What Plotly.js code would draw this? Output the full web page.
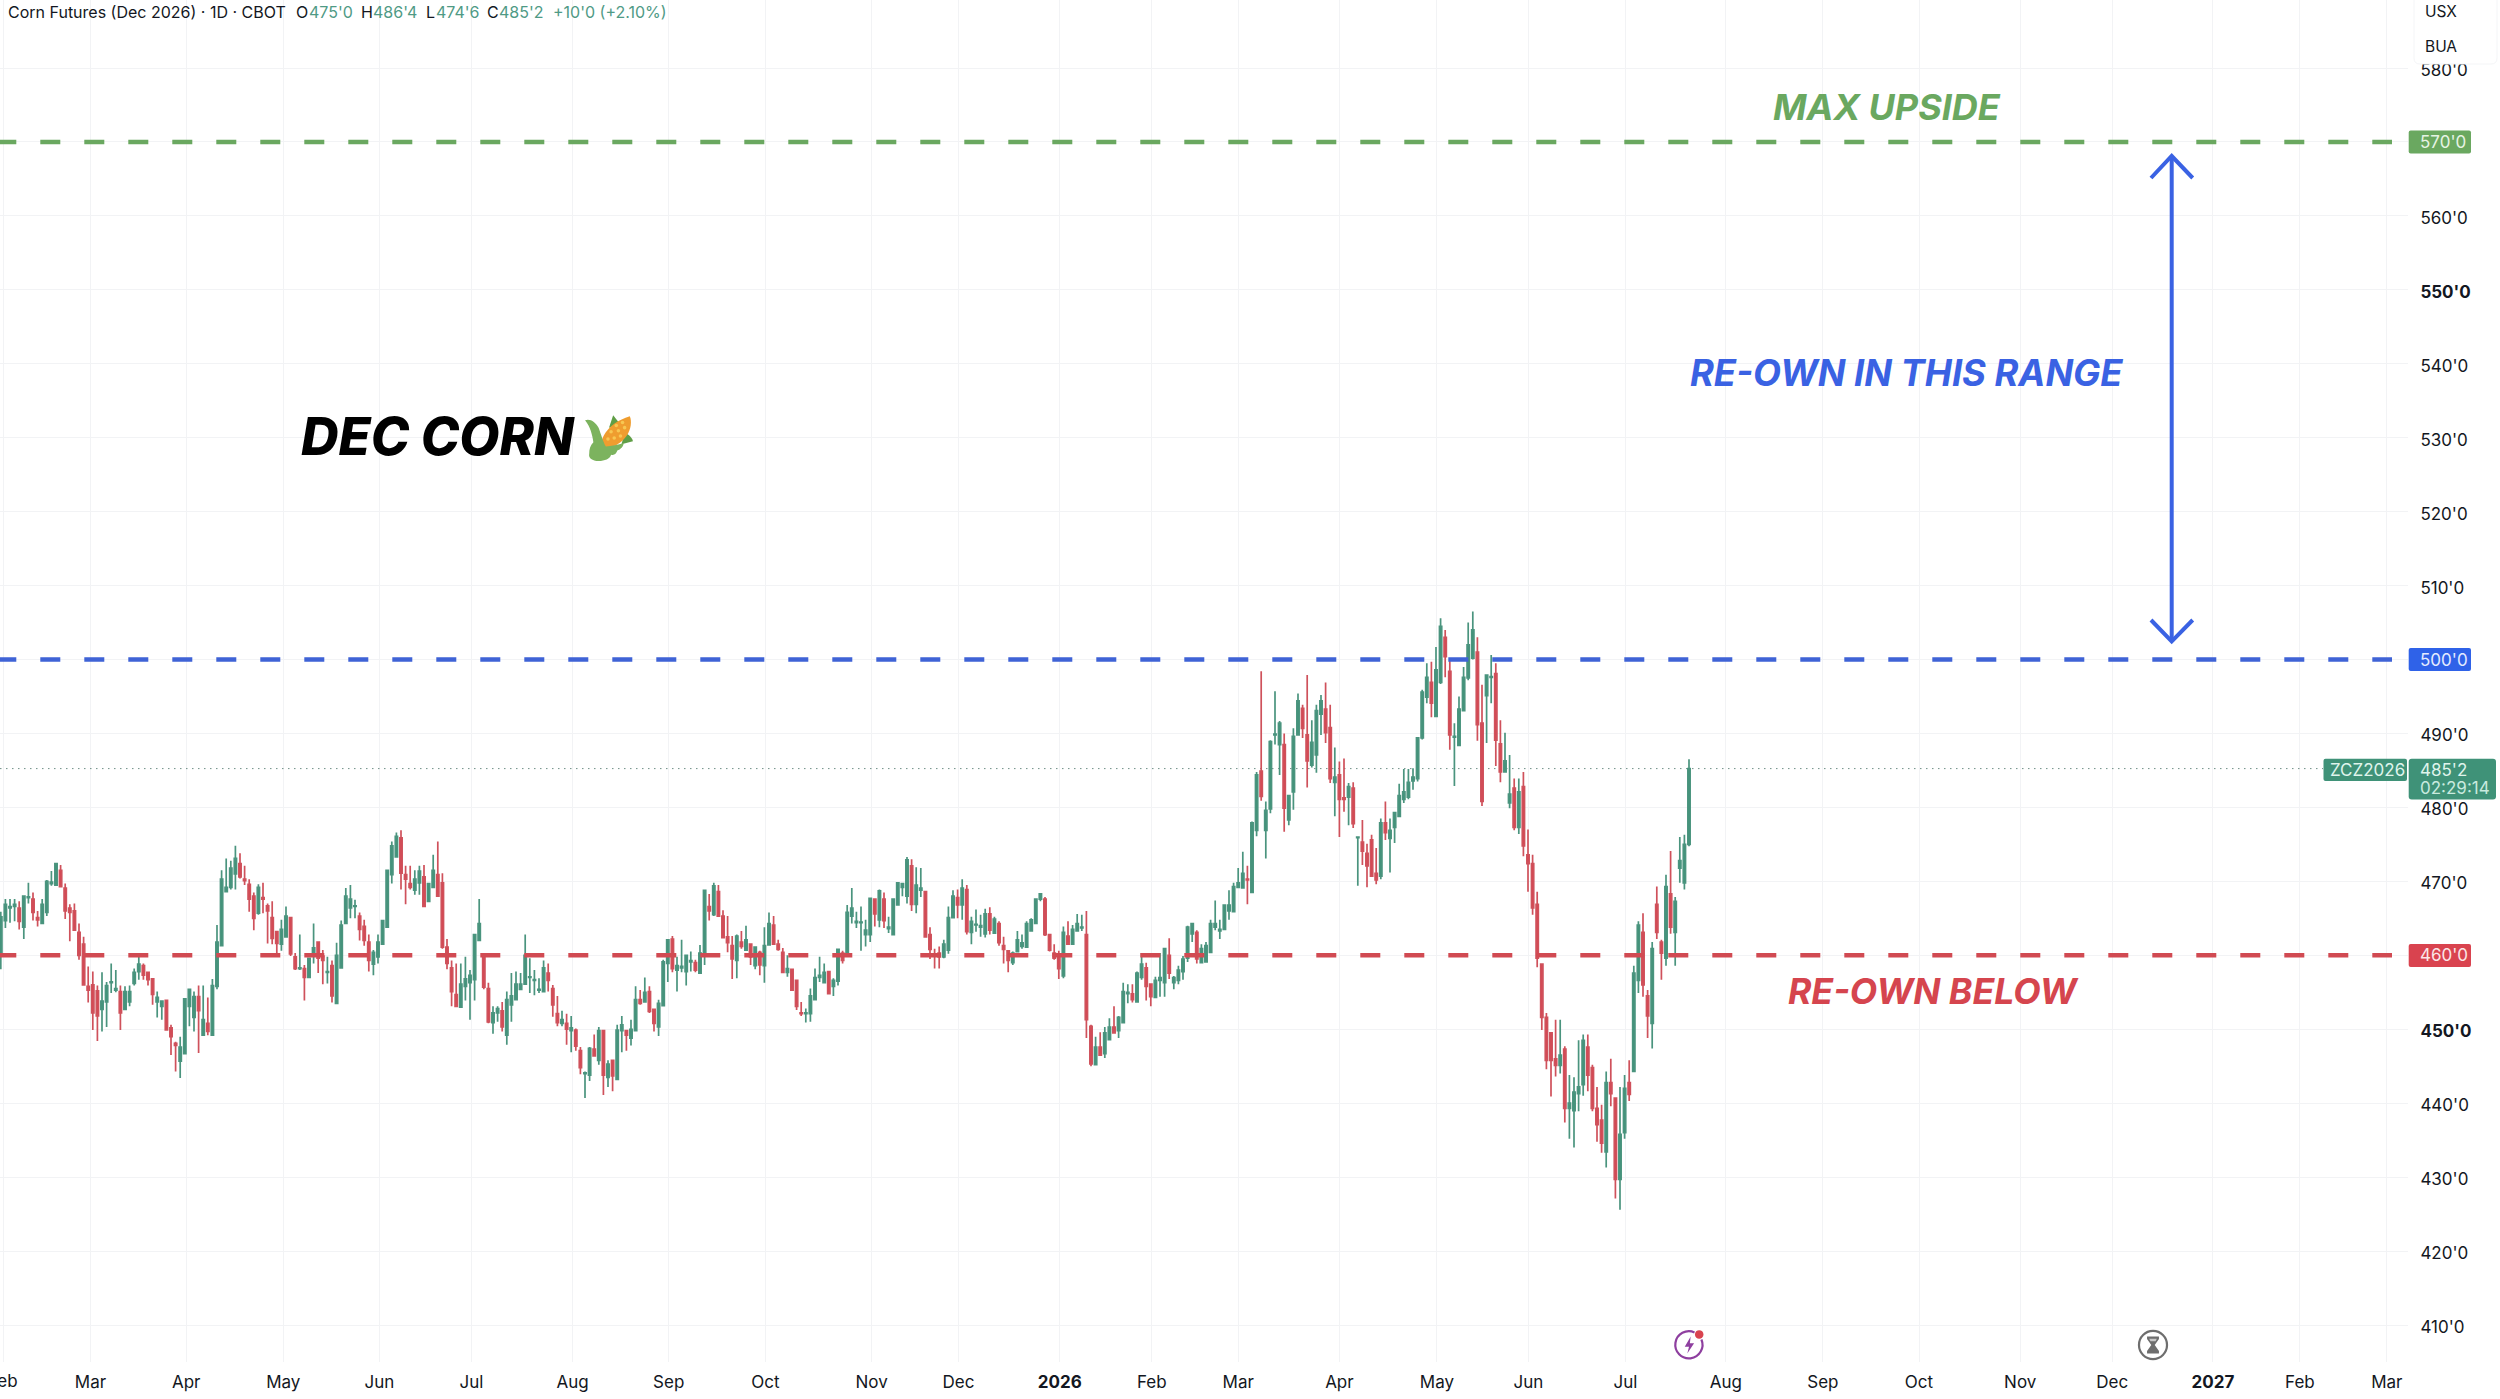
<!DOCTYPE html>
<html>
<head>
<meta charset="utf-8">
<script src="https://cdn.plot.ly/plotly-3.0.1.min.js"></script>
<style>html,body{margin:0;padding:0;background:#fff}#chart{width:2500px;height:1399px}</style>
</head>
<body>
<div id="chart"></div>
<script>
// Daily bars [open, high, low, close], in time order.
const barsFebMay2025 = [
[461.0,464.0,460.0,463.0],[460.0,465.9,458.1,465.2],[464.7,467.6,463.7,466.9],[466.4,467.6,464.4,466.6],[466.6,467.6,464.6,466.9],
[466.4,467.3,463.5,464.6],[463.8,468.0,462.2,468.0],[467.8,469.8,467.0,467.9],[467.6,468.5,464.7,465.8],[465.1,466.0,463.9,464.8],
[464.3,467.6,464.2,466.9],[465.8,470.2,465.3,470.0],[469.7,471.4,469.4,469.9],[469.5,472.4,469.4,472.4],[471.5,472.2,469.2,469.3],
[469.1,469.7,464.9,466.0],[466.4,466.9,461.9,465.8],[466.0,467.0,463.3,463.4],[463.1,464.3,459.4,460.0],[461.5,462.5,455.9,456.0],
[455.8,458.5,453.6,455.3],[456.0,457.8,449.9,452.2],[455.2,455.9,448.4,451.8],[452.7,457.7,449.7,453.8],[453.7,456.4,450.3,455.9],
[456.3,458.9,454.9,456.4],[455.3,458.0,455.0,455.5],[455.1,455.9,449.9,452.2],[452.7,455.8,452.7,455.1],[453.7,455.9,453.1,455.1],
[456.2,458.2,455.9,457.7],[457.8,460.0,456.7,458.8],[458.6,458.9,456.7,457.3],[457.7,457.8,455.9,456.7],[456.8,456.9,453.3,454.7],
[453.7,455.1,451.6,454.3],[453.1,453.8,451.3,453.8],[453.9,454.0,449.9,449.9],[450.2,450.6,446.5,449.0],[448.1,448.3,444.3,447.8],
[445.7,449.0,443.4,447.6],[446.7,454.1,446.7,454.1],[453.1,455.5,450.4,455.4],[451.6,455.1,449.7,454.4],[454.4,455.9,446.8,452.5],
[449.2,455.9,449.2,451.3],[450.8,454.3,449.2,449.7],[449.2,456.8,449.1,455.9],[455.8,464.1,455.4,461.8],[461.3,471.5,461.2,470.3],
[468.6,473.1,468.6,469.2],[469.2,472.8,468.9,471.8],[471.0,474.8,468.9,473.1],[472.4,473.8,470.4,470.6],[470.3,472.1,469.5,470.1],
[469.6,470.3,465.9,467.6],[468.0,468.5,463.4,465.0],[465.7,469.6,465.5,469.2],[467.8,469.8,465.7,467.6],[466.7,467.0,461.6,466.0],
[465.1,467.3,461.5,462.3],[463.2,463.3,460.3,461.6],[461.5,464.8,460.6,463.5],[462.5,466.6,462.4,465.3],[465.1,465.1,459.9,460.2]
];
const barsMayAug2025 = [
[459.8,460.3,458.0,458.2],[458.2,462.8,458.0,458.3],[458.2,458.7,453.9,457.0],[457.0,459.7,456.9,459.6],[460.4,464.3,458.9,461.0],
[461.8,461.9,457.6,459.6],[459.9,460.7,456.1,459.3],[457.7,459.8,456.2,457.8],[458.6,459.3,453.6,454.5],[453.5,461.7,453.5,460.0],
[458.3,464.7,458.2,464.1],[464.3,469.1,464.2,468.0],[466.4,469.5,465.0,467.6],[466.6,467.5,465.0,466.7],[465.3,465.8,462.0,463.5],
[463.9,464.8,461.3,462.0],[461.8,462.8,457.8,459.3],[458.8,460.7,457.3,460.4],[459.8,462.8,458.9,461.8],[461.5,464.8,461.4,464.7],
[463.8,471.6,463.8,471.5],[470.9,475.4,469.7,474.8],[473.3,476.6,473.3,476.1],[475.9,476.9,468.9,471.1],[470.9,472.1,466.9,470.3],
[469.7,472.1,468.9,469.2],[468.8,471.5,468.2,470.3],[469.8,472.1,468.2,471.4],[470.6,472.2,466.6,466.6],[467.3,469.8,467.3,469.7],
[469.2,473.6,469.2,471.5],[470.9,475.4,467.9,468.0],[469.8,471.1,460.9,461.1],[461.1,462.2,458.1,458.9],[458.3,459.3,453.1,455.1],
[454.7,458.9,453.0,453.1],[453.0,458.9,453.0,456.1],[455.8,459.8,453.9,456.8],[456.3,458.0,451.3,457.3],[456.7,462.8,453.9,462.8],
[462.0,467.6,461.9,464.3],[459.8,459.9,455.4,455.7],[455.5,456.3,450.8,451.0],[450.9,453.1,449.4,452.2],[452.2,453.1,451.0,452.8],
[452.5,453.7,449.7,450.3],[449.2,455.1,447.9,454.0],[453.3,457.6,451.0,454.5],[454.0,457.8,454.0,456.1],[455.4,457.6,455.3,456.1],
[456.1,462.8,456.0,460.0],[457.0,459.6,454.9,457.1],[456.6,458.0,454.6,456.7],[455.3,456.9,454.9,455.4],[455.1,459.3,455.1,458.3],
[457.6,458.9,455.1,456.6],[455.5,456.0,451.7,453.3],[452.1,454.5,450.4,450.9],[450.8,452.5,450.4,451.3],[450.8,452.1,447.9,450.0],
[449.8,451.8,446.9,450.2],[449.9,450.1,447.1,447.7],[447.1,447.6,443.9,444.8],[444.0,444.3,440.7,444.1],[443.8,447.6,443.0,447.4]
];
const barsAugNov2025 = [
[447.3,449.3,446.3,446.4],[445.8,450.3,445.2,449.8],[449.8,449.9,441.1,443.8],[443.5,445.8,442.2,445.3],[445.8,445.8,441.6,443.7],
[443.2,450.6,443.2,449.9],[449.8,451.8,446.9,450.6],[449.8,449.9,447.1,449.2],[448.8,451.3,447.8,450.0],[449.8,455.8,449.7,454.0],
[454.0,455.3,453.3,453.5],[453.7,457.0,453.6,455.0],[455.1,455.8,452.2,452.4],[452.7,452.8,449.7,450.8],[450.3,454.0,449.1,453.5],
[453.2,459.4,453.1,459.1],[458.9,462.1,456.4,462.1],[462.2,462.6,457.7,458.2],[458.0,459.8,455.1,458.6],[458.3,462.1,457.7,458.5],
[457.8,460.0,455.9,460.0],[459.1,460.5,457.8,459.3],[459.0,459.4,457.7,458.0],[457.6,461.4,457.5,460.3],[460.0,468.8,458.7,468.8],
[466.6,468.3,464.7,466.0],[465.5,469.8,465.3,469.4],[468.6,469.5,465.2,465.3],[465.3,466.1,462.3,462.4],[462.5,465.3,460.4,461.7],
[461.3,462.6,456.8,459.5],[459.3,462.8,456.9,462.6],[461.8,463.3,460.9,461.2],[460.7,464.0,460.6,462.1],[461.5,461.6,458.7,459.8],
[458.6,461.2,458.1,461.1],[460.4,460.6,457.3,458.7],[458.6,463.8,456.3,461.3],[461.4,465.8,461.3,464.3],[464.1,465.3,461.4,461.5],
[461.5,462.1,460.6,460.8],[460.4,461.0,457.6,457.7],[457.7,460.0,457.1,458.2],[458.1,458.2,455.2,455.3],[456.6,456.7,452.6,453.1],
[452.2,453.7,451.8,452.1],[452.1,452.8,450.9,452.2],[452.1,455.5,451.0,454.5],[454.0,458.2,453.9,457.0],[457.0,459.8,456.4,457.3],
[456.3,458.9,456.2,457.7],[457.8,457.8,454.7,454.8],[455.8,456.9,454.5,456.6],[456.5,460.8,455.9,460.8],[460.3,460.6,458.9,459.3],
[460.3,466.8,460.2,465.8],[465.3,469.1,464.3,466.4],[464.4,465.9,463.7,464.6],[464.4,466.6,460.6,464.5],[462.8,464.8,461.2,463.4],
[462.8,467.8,461.8,467.7],[467.6,467.7,463.9,465.6],[464.8,468.9,463.8,468.7],[467.6,468.5,463.7,464.7],[463.6,465.2,463.0,463.8]
];
const barsNovJan2026 = [
[462.8,467.6,462.8,467.6],[466.8,469.8,466.7,469.8],[469.2,469.8,468.0,469.7],[468.0,473.3,467.0,472.9],[472.1,473.0,466.0,466.9],
[466.9,471.9,465.7,469.5],[468.8,471.8,467.9,469.1],[468.6,468.6,462.4,462.5],[462.8,463.8,459.5,460.8],[460.2,460.9,458.2,459.9],
[460.3,461.2,458.2,459.8],[459.8,462.1,459.6,461.5],[460.7,466.6,460.2,465.1],[465.1,468.8,465.0,468.0],[467.8,468.9,465.0,466.8],
[466.8,470.3,464.8,469.1],[468.9,469.5,462.8,463.2],[463.1,465.2,461.5,464.6],[464.1,466.2,463.2,464.2],[463.8,465.5,462.5,464.0],
[462.9,466.3,462.4,465.6],[465.6,466.5,462.8,463.4],[463.0,465.2,462.9,464.9],[464.3,464.6,461.3,461.7],[461.3,462.5,458.9,460.8],
[460.6,460.7,457.7,459.3],[459.0,460.5,458.7,460.3],[460.5,463.3,460.4,462.1],[461.2,462.8,460.9,461.7],[461.1,464.6,461.0,464.3],
[463.3,465.0,463.2,464.8],[464.3,467.7,464.2,467.6],[467.6,468.4,467.3,468.3],[467.6,467.9,462.6,462.8],[462.8,462.9,460.5,460.7],
[460.3,461.5,459.4,459.6],[460.2,460.6,456.8,458.2],[457.2,463.9,456.9,463.1],[462.6,464.6,461.4,461.5],[461.5,464.1,461.4,463.5],
[463.3,465.6,463.2,464.3],[463.7,465.5,463.3,463.8],[462.8,466.0,448.8,451.3],[450.4,450.6,445.0,445.3],[445.2,449.0,445.1,447.6],
[447.6,449.6,446.4,446.5],[446.7,450.3,446.1,449.5],[448.6,451.5,448.5,450.3],[450.3,453.1,449.4,449.5],[449.8,451.8,448.8,451.6],
[450.9,456.3,450.9,455.1],[454.8,456.1,453.5,455.0],[454.8,456.1,453.6,454.0],[453.7,457.8,453.7,457.6],[457.0,460.3,456.7,458.8],
[458.3,459.0,453.9,455.8],[456.1,456.2,453.1,454.4],[454.3,457.1,454.3,456.6],[456.6,460.3,454.4,457.0],[456.3,460.9,454.4,460.9]
];
const barsFebApr2026 = [
[460.0,462.3,456.8,457.6],[456.3,457.2,455.4,457.0],[456.6,458.6,456.1,458.0],[457.8,459.9,456.7,459.5],[459.6,464.0,459.1,463.8],
[462.9,464.4,461.8,464.3],[463.1,463.4,458.9,459.5],[459.0,461.5,458.9,460.9],[459.1,461.8,459.0,461.3],[460.4,464.8,460.4,464.3],
[463.8,467.4,463.4,464.3],[463.3,464.8,462.2,463.5],[463.5,466.8,463.4,466.8],[466.0,468.8,464.8,466.8],[465.9,469.8,465.8,469.3],
[469.2,471.8,469.1,469.8],[469.1,474.0,469.1,471.1],[470.3,472.1,466.9,470.2],[468.5,478.1,468.4,477.9],[476.9,484.8,476.1,484.4],
[484.9,498.4,480.9,481.5],[476.9,480.8,473.1,479.6],[479.8,489.1,479.2,488.9],[489.8,495.7,488.5,489.9],[488.5,491.7,484.4,491.4],
[488.5,490.0,476.7,479.9],[478.3,481.6,477.6,481.6],[482.1,490.7,479.7,489.6],[489.8,495.4,489.7,494.4],[493.4,493.9,489.4,490.7],
[489.8,497.9,482.7,486.3],[485.7,491.8,485.4,488.8],[487.1,493.9,484.7,493.1],[492.6,495.2,489.8,494.4],[493.3,496.9,488.7,490.1],
[490.8,493.9,483.3,483.9],[483.4,488.1,478.8,484.1],[484.4,486.2,476.0,481.1],[481.3,486.6,479.4,481.1],[481.4,483.3,477.6,482.8],
[482.6,483.4,477.2,477.8],[475.9,476.1,469.4,476.0],[475.3,478.3,472.2,474.1],[473.8,475.1,469.2,472.1],[475.6,476.3,470.6,470.7],
[471.1,474.5,469.6,470.2],[470.7,478.5,470.3,477.9],[477.9,480.8,475.6,476.6],[475.8,478.5,471.2,476.9],[477.3,479.4,475.2,479.3],
[478.8,483.2,478.8,481.6],[481.1,485.2,480.6,482.1],[481.4,485.2,481.1,483.4],[483.6,485.3,482.4,484.1],[483.9,489.5,483.5,489.4],
[489.4,495.9,489.2,495.6],[494.9,499.5,494.1,497.6],[496.9,499.7,492.2,494.1],[492.3,501.7,492.2,498.6],[496.9,505.6,496.7,504.5]
];
const barsMayJul2026 = [
[503.0,504.0,497.6,500.4],[498.4,500.0,487.8,489.8],[489.5,491.4,482.9,489.6],[488.4,495.0,488.3,493.3],[493.1,499.0,493.0,497.6],
[497.5,505.0,497.2,502.0],[500.2,506.5,500.0,504.0],[501.0,503.0,489.0,491.2],[491.4,496.6,480.2,480.8],[495.1,498.0,488.7,497.9],
[497.6,500.6,494.1,497.7],[498.1,499.5,485.6,489.1],[488.6,491.8,483.4,484.8],[484.8,490.1,484.7,486.3],[480.6,487.1,479.9,481.8],
[482.6,483.9,476.9,477.3],[477.3,483.9,476.4,482.1],[482.8,484.8,473.4,474.8],[473.6,477.0,468.6,472.4],[472.4,473.6,465.5,466.4],
[466.9,468.6,458.4,459.6],[458.8,458.9,449.9,451.6],[451.6,452.2,444.6,445.8],[449.5,449.5,440.9,445.8],[446.0,451.3,443.6,445.1],
[445.1,451.3,444.0,446.5],[447.3,447.7,437.4,439.3],[439.3,443.8,435.2,440.0],[439.0,443.5,434.0,441.5],[441.3,448.5,438.9,442.2],
[442.5,449.3,441.0,448.5],[447.6,449.3,441.6,443.8],[444.8,445.2,438.9,439.3],[439.3,442.2,434.8,437.1],[437.7,439.8,433.3,434.6],
[433.4,444.3,431.3,442.8],[442.8,446.0,439.6,441.3],[440.7,440.8,427.1,429.7],[429.7,442.2,425.6,435.8],[436.0,443.8,435.2,442.0],
[442.8,445.8,440.3,441.2],[444.3,458.6,444.3,457.6],[456.6,464.6,454.9,464.1],[463.1,465.7,454.4,456.0],[454.5,455.3,448.8,451.8],
[450.8,461.8,447.4,460.9],[466.9,469.3,462.2,463.1],[461.8,462.1,456.7,460.3],[459.6,470.9,458.6,469.3],[468.3,474.1,462.9,463.8],
[463.1,467.9,458.6,467.3],[471.8,476.0,469.8,472.8],[469.8,476.3,468.9,475.0],[475.0,486.5,474.75,485.25]
];
const allBars = [].concat(barsFebMay2025, barsMayAug2025, barsAugNov2025, barsNovJan2026, barsFebApr2026, barsMayJul2026);

// Horizontal levels and labels
const levelPrices = [570, 500, 460];
const levelColours = ['#6aa860', '#3f63d6', '#d14a52'];
const badgeColours = ['#6aa860', '#2f62e8', '#d9434f'];
const lastPrice = 485.25;
const yTickValues = [410,420,430,440,450,460,470,480,490,500,510,520,530,540,550,560,570,580];
const yTickBold = [450, 550];
// Month labels and where they fall, counted in bars from the last bar
const xTickLabels = ['Feb','Mar','Apr','May','Jun','Jul','Aug','Sep','Oct','Nov','Dec','<b>2026</b>','Feb','Mar','Apr','May','Jun','Jul','Aug','Sep','Oct','Nov','Dec','<b>2027</b>','Feb','Mar'];
const xTickBars = [-366.5,-347.5,-326.7,-305.6,-284.7,-264.7,-242.7,-221.8,-200.8,-177.7,-158.8,-136.8,-116.8,-98,-76,-54.8,-34.9,-13.8,8,29.1,50,72,92,113.9,132.8,151.7];

const W = 2500, H = 1399, PR = 2408, PB = 1362;
const FONT = 'Inter, "Liberation Sans", sans-serif';
const xp = px => px / PR, yp = py => 1 - py / PB;
const BAR_PX = 4.6, LAST_PX = 1689;
const barAt = px => (px - LAST_PX) / BAR_PX;
const N = allBars.length;

const candles = {
  type: 'candlestick',
  x: allBars.map((_, i) => i - (N - 1)),
  open: allBars.map(b => b[0]), high: allBars.map(b => b[1]),
  low: allBars.map(b => b[2]), close: allBars.map(b => b[3]),
  increasing: {line: {color: '#4a947e', width: 1.7}, fillcolor: '#3f9278'},
  decreasing: {line: {color: '#cf515b', width: 1.7}, fillcolor: '#d9444f'},
  whiskerwidth: 0, width: 0.5, hoverinfo: 'skip', showlegend: false
};

function rrect(x0, y0, x1, y1, r, fill, line) {
  const X = v => xp(v), Y = v => yp(v);
  const d = `M${X(x0+r)},${Y(y0)} L${X(x1-r)},${Y(y0)} Q${X(x1)},${Y(y0)} ${X(x1)},${Y(y0+r)} L${X(x1)},${Y(y1-r)} Q${X(x1)},${Y(y1)} ${X(x1-r)},${Y(y1)} L${X(x0+r)},${Y(y1)} Q${X(x0)},${Y(y1)} ${X(x0)},${Y(y1-r)} L${X(x0)},${Y(y0+r)} Q${X(x0)},${Y(y0)} ${X(x0+r)},${Y(y0)} Z`;
  return {type:'path', xref:'paper', yref:'paper', path:d, fillcolor:fill, line:{color:line||fill, width:line?1:0}, layer:'above'};
}
function pathPx(points, color, w) {
  const d = points.map((p,i)=>(i?'L':'M')+xp(p[0])+','+yp(p[1])).join(' ');
  return {type:'path', xref:'paper', yref:'paper', path:d, line:{color, width:w}, layer:'above'};
}
function txt(px, py, text, size, color, opts) {
  opts = opts || {};
  const anchor = opts.anchor || 'left';
  return {xref:'paper', yref:'paper', x:xp(anchor === 'left' ? px - 2 : px), y:yp(py), text, showarrow:false,
    xanchor:anchor, yanchor:'middle', align:'left',
    font:{family:FONT, size, color, weight:opts.weight||400, style:opts.style||'normal'}};
}

const shapes = [];
levelPrices.forEach((p, i) => shapes.push({type:'line', xref:'x', yref:'y', x0:barAt(-3.7), x1:barAt(2392), y0:p, y1:p,
  line:{color:levelColours[i], width:4.5, dash:'20px,24px'}, layer:'above'}));
shapes.push({type:'line', xref:'x', yref:'y', x0:barAt(0), x1:barAt(2323), y0:lastPrice, y1:lastPrice,
  line:{color:'#6f8f86', width:1, dash:'1.5px,4.5px'}, layer:'between'});
// double arrow
shapes.push(pathPx([[2171.7,157],[2171.7,640]], '#3a62e3', 4));
shapes.push(pathPx([[2151,178],[2171.7,156],[2192.7,178]], '#3a62e3', 4));
shapes.push(pathPx([[2151,620],[2171.7,641.5],[2192.7,620]], '#3a62e3', 4));
// price badges
shapes.push(rrect(2408.7,130.5,2471,153.5,2,badgeColours[0]));
shapes.push(rrect(2408.7,648,2471,671,2,badgeColours[1]));
shapes.push(rrect(2408.7,944,2471,967,2,badgeColours[2]));
shapes.push(rrect(2323.5,758.7,2407,781,2,'#3f9278'));
shapes.push(rrect(2408.7,758.7,2496,799.5,3,'#3f9278'));
// top-right panel
shapes.push(rrect(2414,-12,2497,64,6,'#ffffff','#f4f5f7'));

const green = '#4f9a85', black = '#131722';
const annotations = [
  txt(8,12,'Corn Futures (Dec 2026) · 1D · CBOT',16,black),
  txt(296,12,'O',16,black), txt(309,12,"475'0",16,green),
  txt(361,12,'H',16,black), txt(373,12,"486'4",16,green),
  txt(426,12,'L',16,black), txt(436,12,"474'6",16,green),
  txt(487,12,'C',16,black), txt(499,12,"485'2",16,green),
  txt(553,12,"+10'0 (+2.10%)",16,green),
  txt(2425,12,'USX',15.5,black), txt(2425,46,'BUA',15.5,black),
  txt(2420,142,"570'0",17,'#e6f3e4'),
  txt(2420,660,"500'0",17,'#e4ebff'),
  txt(2420,955.5,"460'0",17,'#fbe6e8'),
  txt(2330,770,'ZCZ2026',17,'#dff4ec'),
  txt(2420,770,"485'2",17,'#dff4ec'),
  txt(2420,788,'02:29:14',17,'#c9eadf'),
  txt(3,1381,'Feb',17,black,{anchor:'center'}),
  txt(1773,107,'MAX UPSIDE',36,'#6aa860',{weight:700,style:'italic'}),
  txt(1690,373,'RE-OWN IN THIS RANGE',36.3,'#3a62e3',{weight:700,style:'italic'}),
  txt(1788,991,'RE-OWN BELOW',35.6,'#d5454e',{weight:700,style:'italic'}),
  txt(301,436,'DEC CORN',52,'#000000',{weight:800,style:'italic'})
];

const svg = s => 'data:image/svg+xml;charset=utf-8,' + encodeURIComponent(s);
const cornSvg = svg(`<svg xmlns="http://www.w3.org/2000/svg" viewBox="0 0 48 48">
<path d="M28 3l7 9-11 3z" fill="#5f9e46"/><path d="M47 28l-11 3 3-11c3 1 7 4 8 8z" fill="#5f9e46"/>
<path d="M17 36c-3-8 4-25 27-32 4 10-3 29-27 32z" fill="#ef9d2f"/>
<g fill="#f7c752"><circle cx="31" cy="13" r="1.7"/><circle cx="37" cy="10" r="1.7"/><circle cx="26" cy="19" r="1.7"/><circle cx="33" cy="18" r="1.7"/><circle cx="39" cy="15" r="1.7"/><circle cx="23" cy="26" r="1.7"/><circle cx="29" cy="25" r="1.7"/><circle cx="35" cy="23" r="1.7"/></g>
<path d="M1 8c5-2 10 2 13 7 2 5 4 13 7 18 5 0 12-2 17-3 0 3-3 6-6 7-1 3-3 5-6 4-1 4-6 6-12 6-6 0-10-3-9-7 0-4 1-8 4-11-1-7-3-15-8-21z" fill="#7cb35e"/>
</svg>`);
const boltSvg = svg(`<svg xmlns="http://www.w3.org/2000/svg" viewBox="0 0 40 40">
<path d="M26.5 5.2A16 16 0 1 0 34.6 13.5" fill="none" stroke="#8e3f9f" stroke-width="2.6"/>
<path d="M22 10l-7 12h5l-2 8 8-12h-5z" fill="#8e3f9f"/><circle cx="32" cy="7.5" r="5" fill="#d9434f"/>
</svg>`);
const glassSvg = svg(`<svg xmlns="http://www.w3.org/2000/svg" viewBox="0 0 40 40">
<circle cx="20" cy="20" r="16.5" fill="#fff" stroke="#6e6e6e" stroke-width="2.6"/>
<path d="M13 10h14v3l-5 7 5 7v3H13v-3l5-7-5-7z" fill="#6e6e6e"/><path d="M15.5 12.5h9l-1.5 3h-6z" fill="#c8c8c8"/>
</svg>`);
const img = (src, cx, cy, s) => ({source:src, xref:'paper', yref:'paper', x:xp(cx), y:yp(cy), sizex:s/PR, sizey:s/PB,
  xanchor:'center', yanchor:'middle', sizing:'stretch', layer:'above'});
const images = [img(cornSvg,609,437,50), img(boltSvg,1689,1345,34), img(glassSvg,2153,1345,34)];

const layout = {
  width:W, height:H, autosize:false, paper_bgcolor:'#ffffff', plot_bgcolor:'#ffffff',
  margin:{l:0, r:W-PR, t:0, b:H-PB, pad:0}, showlegend:false, hovermode:false,
  font:{family:FONT, color:black, size:17},
  xaxis:{type:'linear', range:[barAt(0), barAt(PR)], tickmode:'array', tickvals:xTickBars, ticktext:xTickLabels,
    showgrid:true, gridcolor:'#f2f3f5', gridwidth:1, zeroline:false, showline:false,
    ticks:'outside', ticklen:5, tickcolor:'rgba(0,0,0,0)', tickangle:0,
    tickfont:{family:FONT,size:17,color:black}, rangeslider:{visible:false}, fixedrange:true},
  yaxis:{type:'linear', side:'right', range:[460+(955.3-PB)/7.394, 460+955.3/7.394], tickmode:'array',
    tickvals:yTickValues, ticktext:yTickValues.map(v => yTickBold.includes(v) ? `<b>${v}'0</b>` : `${v}'0`),
    showgrid:true, gridcolor:'#f2f3f5', gridwidth:1, zeroline:false, showline:false,
    ticks:'outside', ticklen:8, tickcolor:'rgba(0,0,0,0)', ticklabelshift:2,
    tickfont:{family:FONT,size:17,color:black}, fixedrange:true},
  shapes, annotations, images
};
Plotly.newPlot('chart', [candles], layout, {staticPlot:true, displayModeBar:false, responsive:false});
</script>
</body>
</html>
